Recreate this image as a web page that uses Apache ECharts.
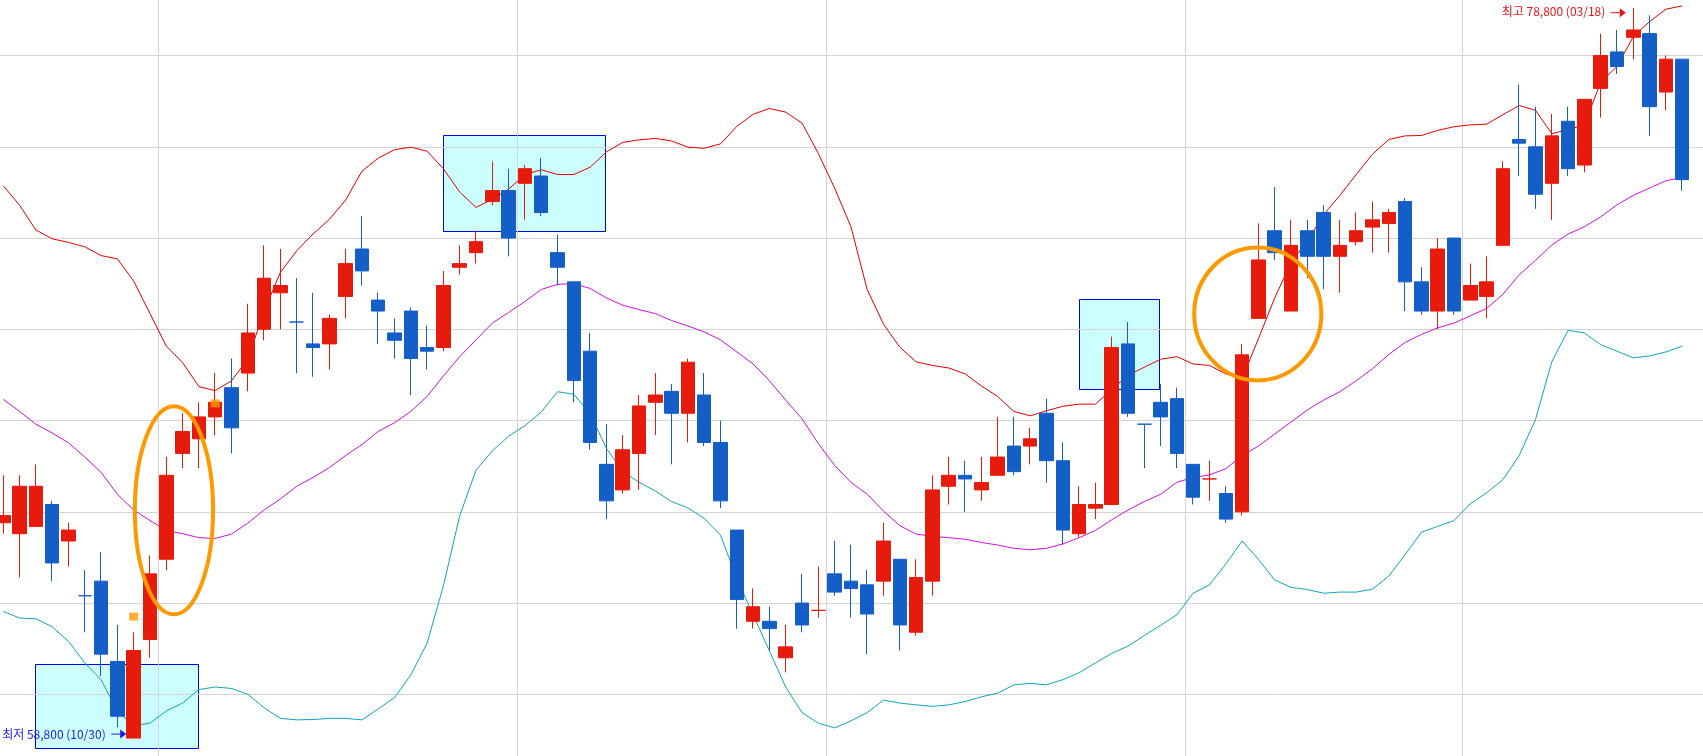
<!DOCTYPE html>
<html>
<head>
<meta charset="utf-8">
<script src="https://cdn.jsdelivr.net/npm/echarts@6/dist/echarts.min.js"></script>
<style>
html,body{margin:0;padding:0;background:#fff;overflow:hidden;width:1703px;height:756px;position:relative;}
#c{position:absolute;left:-10px;top:-40px;width:1730px;height:830px;}
</style>
</head>
<body>
<div id="c"></div>
<script>
// ---- data ----
const dates = ['10/18','10/19','10/22','10/23','10/24','10/25','10/26','10/29','10/30','10/31',
'11/01','11/02','11/05','11/06','11/07','11/08','11/09','11/12','11/13','11/14','11/15','11/16','11/19','11/20','11/21','11/22','11/23','11/26','11/27','11/28','11/29','11/30',
'12/03','12/04','12/05','12/06','12/07','12/10','12/11','12/12','12/13','12/14','12/17','12/18','12/19','12/20','12/21','12/24','12/26','12/27','12/28',
'01/02','01/03','01/04','01/07','01/08','01/09','01/10','01/11','01/14','01/15','01/16','01/17','01/18','01/21','01/22','01/23','01/24','01/25','01/28','01/29','01/30','01/31',
'02/01','02/07','02/08','02/11','02/12','02/13','02/14','02/15','02/18','02/19','02/20','02/21','02/22','02/25','02/26','02/27','02/28',
'03/04','03/05','03/06','03/07','03/08','03/11','03/12','03/13','03/14','03/15','03/18','03/19','03/20','03/21'];

const opens = [
64700,64400,64600,65200,64200,62700,63100,60900,58800,61500,
63700,66600,67000,67600,68400,68800,70000,71000,70200,69600,
69600,70900,72200,70800,69900,70500,69500,69500,71700,72100,
73500,73800,74000,74200,72100,71300,69400,66300,65600,66600,
68000,68300,67700,68200,66900,64500,62000,62000,61000,62500,
62300,63300,63100,63000,63100,63700,61700,63100,65700,66000,
65600,66000,66800,66800,67700,66400,64400,65100,65200,69600,
67400,68000,68100,66300,65900,65500,65000,70300,72700,70500,
72700,73200,72000,72400,72800,72900,73500,71300,70500,72500,
70800,70900,72300,75200,75000,74000,75700,74500,76600,77600,
78000,78100,76500,77400];
const closes = [
64900,65700,65700,63600,64500,62700,61100,59400,61200,63300,
66000,67200,67600,68000,67300,69900,71400,71200,70200,69500,
70300,71800,71600,70500,69700,69200,69400,71200,71800,72400,
73800,72500,74400,73200,71700,68600,66900,65300,66700,67900,
68200,67700,69100,66900,65300,62600,62400,61800,61300,61900,
62300,62800,62900,62200,64200,61900,63200,65600,66000,65900,
65800,66500,66100,67000,66400,64500,65200,65200,69500,67700,
67400,67600,66600,65400,65900,64800,69300,71900,72100,72300,
72000,72000,72300,72700,73000,73200,71300,70500,72200,70500,
71200,71300,74400,75100,73700,75300,74400,76300,77500,77200,
78200,76100,77400,74100];
const lows = [
64400,63200,64600,63100,63500,61700,60500,59100,58800,61000,
63400,66200,66200,67100,66600,68300,69700,70000,68800,68700,
68900,70300,71200,69600,69200,68200,68900,69400,71500,71800,
73400,72000,73000,73100,71200,68000,66700,64800,65500,65600,
67100,66300,66900,66800,65100,61800,61800,61200,60600,61700,
62100,62700,62100,61100,62700,61200,61600,62700,65200,65000,
65300,66000,66000,66300,65800,64100,64300,64800,65200,67600,
66200,66800,66200,65200,65300,64700,64900,70300,71900,70500,
71400,71100,71000,72300,72100,72100,70500,70400,70000,70400,
70800,70300,72300,74200,73300,73000,74200,74300,75800,77000,
77400,75300,76000,73800];
const highs = [
66000,66000,66300,65300,64700,63400,63900,61900,61700,63800,
66500,67700,68000,68800,69200,70700,72300,72200,71400,71000,
70400,72200,73100,71000,70300,70600,70100,71600,72300,72700,
74600,74400,74500,74700,72600,71300,69900,67400,67100,68200,
68800,68500,69200,68800,67500,64500,62900,62400,61900,63300,
63500,64200,64100,63400,64700,63700,63700,66000,66500,66400,
66500,67600,67600,67300,68100,66900,65700,65800,69800,70200,
67400,68500,68400,66300,66400,65700,69600,72900,73900,73000,
73000,73400,73000,73200,73500,73300,73600,71700,72500,72500,
71800,72000,74600,76700,76100,75900,76100,76300,78100,78200,
78800,78600,77500,77400];

const bandUpper = [
73930,73400,72720,72480,72380,72260,72020,71930,71320,70430,
69540,69090,68430,68320,68590,69180,70500,71560,72150,72610,
73010,73540,74330,74690,74920,74990,74880,74400,73760,73340,
73560,73840,74240,74370,74240,74240,74440,74860,75120,75190,
75230,75160,74990,74960,75080,75560,75890,76050,75950,75650,
74820,73870,72810,71090,70140,69510,69110,69010,68940,68780,
68450,68160,67750,67630,67770,67890,67950,67950,68350,68740,
68960,69180,69250,69050,69010,68780,68650,69740,70860,71820,
72420,73140,73670,74240,74800,75200,75300,75310,75450,75550,
75600,75620,75880,76130,76000,75360,75470,75600,76770,77200,
78020,78430,78770,78860];
const bandMiddle = [
68080,67750,67400,67160,66890,66500,66080,65480,65050,64760,
64490,64400,64290,64270,64390,64690,65050,65350,65700,65940,
66210,66540,66840,67200,67440,67750,68160,68720,69250,69710,
70170,70460,70760,71090,71230,71250,71120,70860,70660,70540,
70430,70240,70090,69930,69710,69380,69050,68590,68060,67550,
66870,66270,65810,65480,65020,64620,64390,64330,64290,64250,
64160,64090,64000,63960,64000,64120,64290,64490,64780,65050,
65280,65480,65810,65940,66010,66180,66540,66800,67130,67460,
67790,68060,68290,68590,68920,69310,69640,69860,70040,70170,
70370,70570,70960,71490,71890,72310,72610,72810,73080,73410,
73670,73870,74070,74160];
const bandLower = [
62270,62090,62070,61850,61450,60860,60400,59540,59140,59210,
59540,59760,60130,60200,60160,60000,59630,59340,59300,59310,
59340,59340,59300,59600,59910,60530,61400,62970,64890,66140,
66670,67070,67360,67730,68290,68220,67690,66740,66100,65810,
65570,65280,65110,64820,64360,63170,62180,61190,60200,59500,
59210,59080,59270,59500,59840,59760,59710,59670,59710,59800,
59930,60030,60260,60300,60260,60400,60590,60860,61120,61320,
61610,61890,62180,62770,63000,63570,64200,63700,63130,62930,
62870,62770,62800,62800,62880,63240,63830,64440,64600,64760,
65220,65520,65880,66540,67530,69110,69970,69900,69580,69400,
69220,69270,69380,69540];

// annotation boxes: [fromIndex, toIndex, topPrice, bottomPrice]
const boxes = [[1.96, 11.93, 60820, 58510], [27.0, 36.93, 75310, 72680], [66.0, 70.92, 70820, 68360]];
// ellipses: [centerIndex, centerPrice, radiusInBars, radiusInPrice]
const ellipses = [[10.47, 65040, 2.40, 2850], [76.96, 70420, 3.90, 1820]];
// orange signal squares: [index, price]
const signals = [[8, 62130], [13, 67970]];

const RED = '#E71B0C', BLUE = '#145EC8';

// ---- derived ----
let lowIdx = 0, highIdx = 0;
lows.forEach((v, i) => { if (v < lows[lowIdx]) lowIdx = i; });
highs.forEach((v, i) => { if (v > highs[highIdx]) highIdx = i; });
const fmt = v => v.toLocaleString('en-US');
const extremes = [
  {idx: lowIdx, price: lows[lowIdx], text: '최저 ' + fmt(lows[lowIdx]) + ' (' + dates[lowIdx] + ')', color: '#1E1EE6', dyText: -4, dyArrow: -4},
  {idx: highIdx, price: highs[highIdx], text: '최고 ' + fmt(highs[highIdx]) + ' (' + dates[highIdx] + ')', color: '#E8141C', dyText: 3, dyArrow: 4.6}
];
const monthStarts = new Set();
dates.forEach((d, i) => { if (i > 0 && d.slice(0, 2) !== dates[i - 1].slice(0, 2)) monthStarts.add(i); });

const categories = dates.concat(['']);
const candleData = opens.map((o, i) => [o, closes[i], lows[i], highs[i]]);

function xPix(api, v) {
  const i = Math.floor(v);
  const base = api.coord([i, 60000])[0];
  const bw = api.size([1, 0])[0];
  return base + (v - i) * bw;
}

const chart = echarts.init(document.getElementById('c'), null, {renderer: 'canvas'});
chart.setOption({
  animation: false,
  backgroundColor: '#ffffff',
  grid: {left: 5.15, top: 4.3, width: 1711.5, height: 821.25, containLabel: false},
  xAxis: {
    type: 'category', data: categories, boundaryGap: true,
    axisLine: {show: false}, axisTick: {show: false}, axisLabel: {show: false},
    splitLine: {show: true, interval: (idx) => monthStarts.has(idx), lineStyle: {color: '#D4D4D4', width: 1}}
  },
  yAxis: {
    type: 'value', min: 57500, max: 80000, interval: 2500, scale: true,
    axisLine: {show: false}, axisTick: {show: false}, axisLabel: {show: false},
    splitLine: {show: true, lineStyle: {color: '#D4D4D4', width: 1}}
  },
  series: [
    {
      type: 'custom', name: 'boxes', z: -1, silent: true,
      data: boxes.map((b, i) => [i]),
      renderItem: (params, api) => {
        const b = boxes[params.dataIndex];
        const x1 = xPix(api, b[0]), x2 = xPix(api, b[1]);
        const y1 = api.coord([0, b[2]])[1], y2 = api.coord([0, b[3]])[1];
        return {type: 'rect', shape: {x: Math.round(x1) + 0.5, y: Math.round(y1) + 0.5, width: Math.round(x2 - x1), height: Math.round(y2 - y1)},
          style: {fill: '#CCFFFF', stroke: '#0000F0', lineWidth: 1}};
      }
    },
    {type: 'line', name: 'upper', data: bandUpper, showSymbol: false, symbol: 'none', z: 1, lineStyle: {color: '#E00000', width: 1}},
    {type: 'line', name: 'middle', data: bandMiddle, showSymbol: false, symbol: 'none', z: 1, lineStyle: {color: '#D010E0', width: 1}},
    {type: 'line', name: 'lower', data: bandLower, showSymbol: false, symbol: 'none', z: 1, lineStyle: {color: '#10A4B8', width: 1}},
    {
      type: 'candlestick', name: 'price', data: candleData, barWidth: 14, z: 2,
      itemStyle: {color: RED, color0: BLUE, borderColor: RED, borderColor0: BLUE, borderWidth: 1}
    },
    {type: 'scatter', name: 'signal', data: signals, symbol: 'rect', symbolSize: [9, 8], z: 4, itemStyle: {color: '#FF9A00'}},
    {
      type: 'custom', name: 'ellipses', z: 5, silent: true,
      data: ellipses.map((e, i) => [i]),
      renderItem: (params, api) => {
        const e = ellipses[params.dataIndex];
        const cx = xPix(api, e[0]);
        const cy = api.coord([0, e[1]])[1];
        const bw = api.size([1, 0])[0];
        const ry = api.coord([0, e[1] - e[3]])[1] - cy;
        return {type: 'ellipse', shape: {cx: cx, cy: cy, rx: e[2] * bw, ry: ry},
          style: {fill: null, stroke: '#FF9900', lineWidth: 4}};
      }
    },
    {
      type: 'custom', name: 'extremes', z: 6, silent: true,
      data: extremes.map((e, i) => [i]),
      renderItem: (params, api) => {
        const e = extremes[params.dataIndex];
        const c = api.coord([e.idx, e.price]);
        const ya = c[1] + e.dyArrow;
        return {type: 'group', children: [
          {type: 'text', style: {text: e.text, x: c[0] - 28, y: c[1] + e.dyText, align: 'right', verticalAlign: 'middle',
            fill: e.color, font: '12px "Noto Sans CJK KR", sans-serif'}},
          {type: 'line', shape: {x1: c[0] - 22.5, y1: ya, x2: c[0] - 13, y2: ya}, style: {stroke: e.color, lineWidth: 1}},
          {type: 'polygon', shape: {points: [[c[0] - 13.5, ya - 4.5], [c[0] - 7.5, ya], [c[0] - 13.5, ya + 4.5]]}, style: {fill: e.color}}
        ]};
      }
    }
  ]
});
</script>
</body>
</html>
